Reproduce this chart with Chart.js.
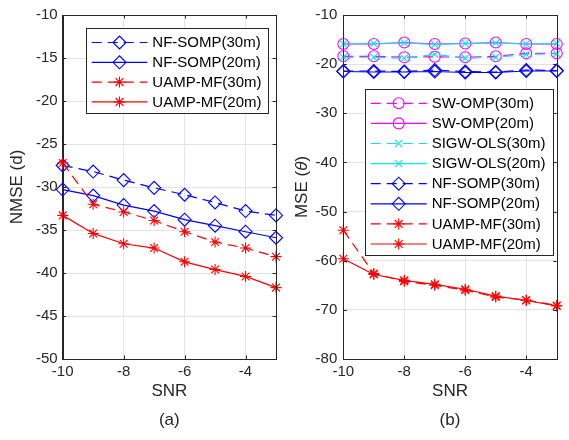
<!DOCTYPE html>
<html><head><meta charset="utf-8">
<script src="https://cdn.jsdelivr.net/npm/chart.js@4.4.0/dist/chart.umd.min.js"></script>
<style>
html,body{margin:0;padding:0;background:#fff;}
#wrap{position:relative;width:569px;height:440px;overflow:hidden;}
.box{position:absolute;top:0;height:440px;}
</style></head><body>
<div id="wrap">
<div class="box" style="left:0;width:290px"><canvas id="ca"></canvas></div>
<div class="box" style="left:290px;width:279px"><canvas id="cb"></canvas></div>
</div>
<script>
// ---- data ----
const snr = [-10, -9, -8, -7, -6, -5, -4, -3];
const xTicks = [-10, -8, -6, -4];
const yTicksA = [-10, -15, -20, -25, -30, -35, -40, -45, -50];
const yTicksB = [-10, -20, -30, -40, -50, -60, -70, -80];

// (a) NMSE (d)
const nfSompA30 = [-27.5, -28.2, -29.2, -30.1, -30.9, -31.8, -32.8, -33.3];
const nfSompA20 = [-30.3, -31.0, -32.1, -32.8, -33.8, -34.5, -35.2, -35.9];
const uampA30   = [-27.2, -32.0, -32.9, -33.9, -35.2, -36.4, -37.1, -38.1];
const uampA20   = [-33.3, -35.4, -36.6, -37.1, -38.7, -39.6, -40.4, -41.7];

// (b) MSE (theta)
const swOmpB30  = [-18.4, -18.4, -18.6, -18.5, -18.6, -18.4, -17.8, -17.8];
const swOmpB20  = [-15.9, -15.9, -15.6, -15.9, -15.8, -15.6, -15.9, -15.9];
const sigwB30   = [-18.6, -18.6, -18.8, -18.0, -18.8, -18.6, -18.0, -17.9];
const sigwB20   = [-15.9, -15.8, -15.7, -16.0, -15.8, -15.7, -15.9, -15.8];
const nfSompB30 = [-21.4, -21.4, -21.5, -21.2, -21.5, -21.6, -21.2, -21.3];
const nfSompB20 = [-21.5, -21.6, -21.6, -21.5, -21.7, -21.7, -21.4, -21.4];
const uampB30   = [-53.8, -62.6, -64.2, -65.0, -66.0, -67.4, -68.0, -69.1];
const uampB20   = [-59.6, -62.8, -64.0, -64.8, -65.8, -67.2, -68.1, -69.2];

// ---- styling ----
const FONT = "'Liberation Sans', Arial, sans-serif";
const AX = '#262626';
const GRID = '#e3e3e3';
const DASH = [10, 6];

function pts(arr){ return snr.map((x,i)=>({x:x, y:arr[i]})); }
let ordCounter = 0;
function ds(label, arr, color, style, radius, dashed){
  return {
    label: label, data: pts(arr),
    borderColor: color, backgroundColor: color,
    borderWidth: 1.2, borderDash: dashed ? DASH : [],
    pointStyle: style, pointRadius: radius, pointHoverRadius: radius,
    pointBorderColor: color, pointBackgroundColor: 'rgba(0,0,0,0)',
    pointBorderWidth: 1.1, tension: 0, clip: false, fill: false,
    order: -(ordCounter++)
  };
}

const framePlugin = {
  id: 'frame',
  afterDraw(chart, args, o){
    const ctx = chart.ctx, a = chart.chartArea;
    const xs = chart.scales.x, ys = chart.scales.y;
    ctx.save();
    ctx.strokeStyle = AX; ctx.lineWidth = 1;
    ctx.strokeRect(Math.round(a.left)+0.5, Math.round(a.top)+0.5,
                   Math.round(a.right)-Math.round(a.left), Math.round(a.bottom)-Math.round(a.top));
    const L = 3.5;
    ctx.beginPath();
    xTicks.forEach(v=>{
      const px = Math.round(xs.getPixelForValue(v))+0.5;
      ctx.moveTo(px, a.bottom); ctx.lineTo(px, a.bottom-L);
      ctx.moveTo(px, a.top); ctx.lineTo(px, a.top+L);
    });
    o.yt.forEach(v=>{
      const py = Math.round(ys.getPixelForValue(v))+0.5;
      ctx.moveTo(a.left, py); ctx.lineTo(a.left+L, py);
      ctx.moveTo(a.right, py); ctx.lineTo(a.right-L, py);
    });
    ctx.stroke();

    // axis titles and caption
    ctx.fillStyle = AX;
    ctx.textAlign = 'center'; ctx.textBaseline = 'middle';
    ctx.font = '17px ' + FONT;
    const cx = (a.left + a.right)/2;
    ctx.fillText('SNR', cx, 391);
    ctx.fillText(o.caption, cx, 420);
    // y title
    ctx.save();
    ctx.translate(o.ytx, (a.top + a.bottom)/2);
    ctx.rotate(-Math.PI/2);
    const parts = o.ytitle;
    let total = 0;
    parts.forEach(p=>{ ctx.font = (p.it?'italic ':'') + '17px ' + FONT; p.w = ctx.measureText(p.t).width; total += p.w; });
    let x0 = -total/2;
    ctx.textAlign = 'left';
    parts.forEach(p=>{ ctx.font = (p.it?'italic ':'') + '17px ' + FONT; ctx.fillText(p.t, x0, 0); x0 += p.w; });
    ctx.restore();

    // legend
    const lg = o.legend;
    ctx.fillStyle = '#fff';
    ctx.fillRect(lg.x, lg.y, lg.w, lg.h);
    ctx.strokeStyle = AX; ctx.lineWidth = 1; ctx.setLineDash([]);
    ctx.strokeRect(Math.round(lg.x)+0.5, Math.round(lg.y)+0.5, Math.round(lg.w), Math.round(lg.h));
    chart.data.datasets.forEach((d, i)=>{
      const y = lg.row0 + i*lg.step;
      ctx.save();
      ctx.strokeStyle = d.borderColor; ctx.lineWidth = d.borderWidth;
      ctx.setLineDash(d.borderDash || []);
      ctx.beginPath(); ctx.moveTo(lg.l0, y); ctx.lineTo(lg.l1, y); ctx.stroke();
      ctx.setLineDash([]);
      ctx.fillStyle = 'rgba(0,0,0,0)';
      ctx.strokeStyle = d.pointBorderColor; ctx.lineWidth = d.pointBorderWidth;
      Chart.helpers.drawPoint(ctx, {pointStyle: d.pointStyle, radius: d.pointRadius, rotation: 0, borderWidth: 1}, (lg.l0+lg.l1)/2, y);
      ctx.restore();
      ctx.fillStyle = '#000';
      ctx.font = '15px ' + FONT;
      ctx.textAlign = 'left'; ctx.textBaseline = 'middle';
      ctx.fillText(d.label, lg.tx, y + 0.5);
    });
    ctx.restore();
  }
};

function makeChart(id, datasets, yt, ymin, ymax, yWidth, padRight, frameOpts){
  return new Chart(document.getElementById(id), {
    type: 'line',
    data: { datasets: datasets },
    options: {
      responsive: true, maintainAspectRatio: false, animation: false,
      events: [],
      layout: { padding: { top: 15, right: padRight, left: 0, bottom: 0 } },
      plugins: { legend: { display: false }, tooltip: { enabled: false }, frame: frameOpts },
      scales: {
        x: {
          type: 'linear', min: -10, max: -3,
          afterBuildTicks(s){ s.ticks = xTicks.map(v=>({value:v})); },
          afterFit(s){ s.height = 81; },
          grid: { color: GRID, drawTicks: false },
          border: { display: true, color: AX },
          ticks: { color: AX, font: { family: FONT, size: 15 }, padding: 4, maxRotation: 0,
                   callback: v => String(v) }
        },
        y: {
          type: 'linear', min: ymin, max: ymax,
          afterBuildTicks(s){ s.ticks = yt.map(v=>({value:v})); },
          afterFit(s){ s.width = yWidth; },
          grid: { color: GRID, drawTicks: false },
          border: { display: true, color: AX },
          ticks: { color: AX, font: { family: FONT, size: 15 }, padding: frameOpts.ypad,
                   callback: v => String(v) }
        }
      }
    },
    plugins: [framePlugin]
  });
}

const dsA = [
  ds('NF-SOMP(30m)', nfSompA30, '#0000ff', 'rectRot', 6.5, true),
  ds('NF-SOMP(20m)', nfSompA20, '#0000ff', 'rectRot', 6.5, false),
  ds('UAMP-MF(30m)', uampA30, '#ff0000', 'star', 5.5, true),
  ds('UAMP-MF(20m)', uampA20, '#ff0000', 'star', 5.5, false)
];
const dsB = [
  ds('SW-OMP(30m)', swOmpB30, '#ff00ff', 'circle', 5.5, true),
  ds('SW-OMP(20m)', swOmpB20, '#ff00ff', 'circle', 5.5, false),
  ds('SIGW-OLS(30m)', sigwB30, '#00e8e8', 'crossRot', 5, true),
  ds('SIGW-OLS(20m)', sigwB20, '#00e8e8', 'crossRot', 5, false),
  ds('NF-SOMP(30m)', nfSompB30, '#0000ff', 'rectRot', 6.5, true),
  ds('NF-SOMP(20m)', nfSompB20, '#0000ff', 'rectRot', 6.5, false),
  ds('UAMP-MF(30m)', uampB30, '#ff0000', 'star', 5.5, true),
  ds('UAMP-MF(20m)', uampB20, '#ff0000', 'star', 5.5, false)
];

makeChart('ca', dsA, yTicksA, -50, -10, 62.7, 14, {
  yt: yTicksA, caption: '(a)', ytx: 17, ypad: 5,
  ytitle: [{t:'NMSE (d)'}],
  legend: { x: 85.7, y: 28.3, w: 182, h: 85, row0: 42.5, step: 19.8, l0: 91.7, l1: 147.3, tx: 152.3 }
});
makeChart('cb', dsB, yTicksB, -80, -10, 53.3, 12.3, {
  yt: yTicksB, caption: '(b)', ytx: 12, ypad: 6,
  ytitle: [{t:'MSE ('}, {t:'\u03B8', it:true}, {t:')'}],
  legend: { x: 75, y: 89.3, w: 187.7, h: 165.7, row0: 103.3, step: 20.1, l0: 80.7, l1: 136.7, tx: 141.7 }
});
</script>
</body></html>
